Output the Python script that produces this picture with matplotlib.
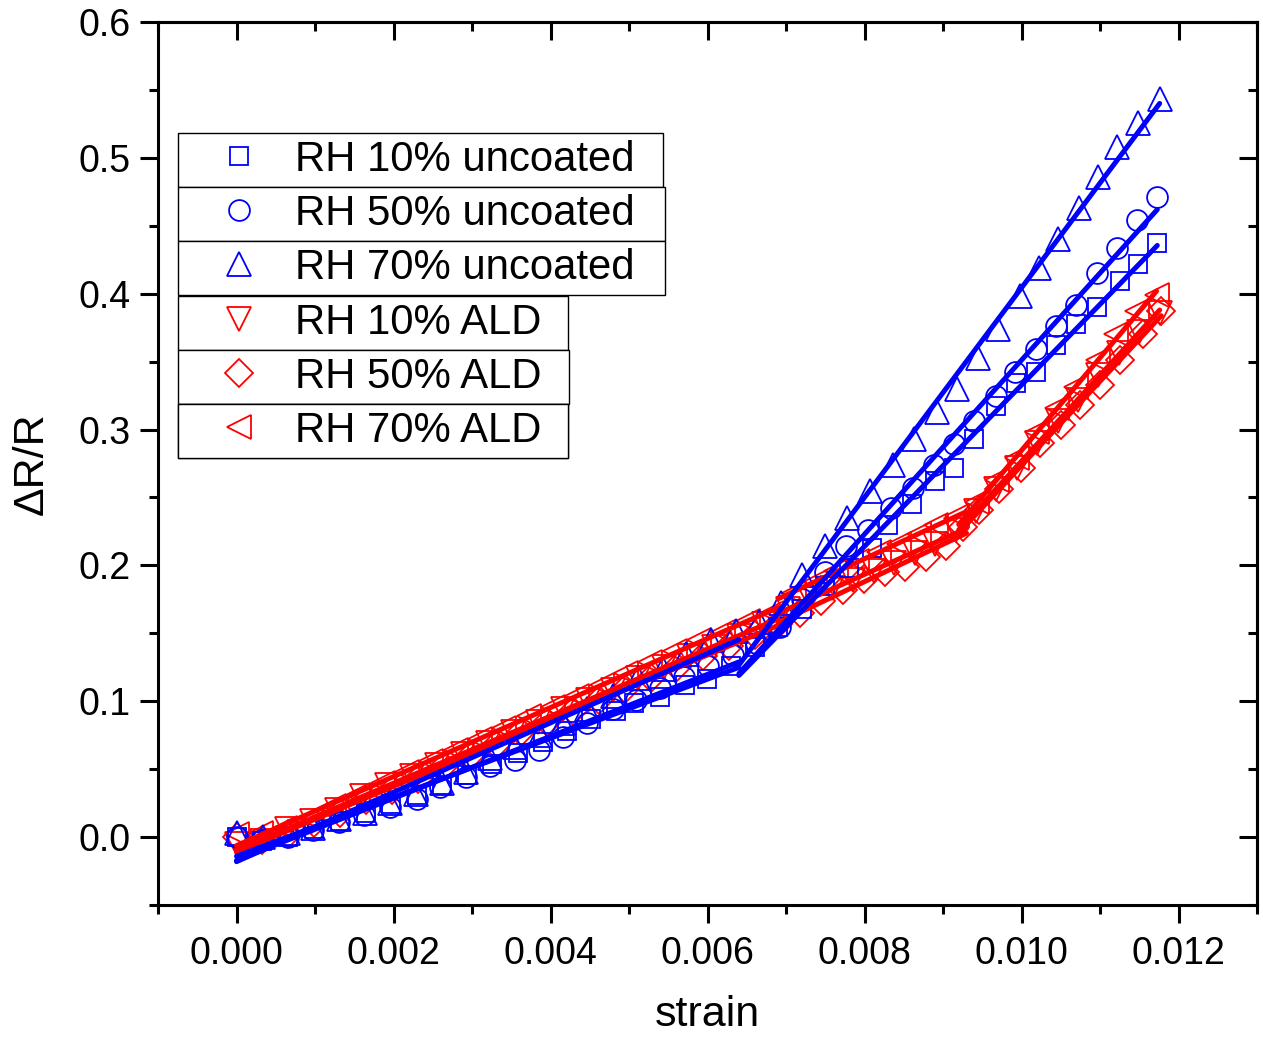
import matplotlib
matplotlib.use("Agg")
import matplotlib.pyplot as plt
from matplotlib.ticker import MultipleLocator, FormatStrFormatter
import numpy as np

plt.rcParams['font.family'] = ['Liberation Sans', 'DejaVu Sans']

# --- data (strain, dR/R) ---
x_rh10_unc = [0, 0.00033, 0.00066, 0.00099, 0.00132, 0.00165, 0.00197, 0.0023, 0.00262, 0.00294,
              0.00326, 0.00358, 0.0039, 0.00421, 0.00452, 0.00484, 0.00507, 0.00539, 0.00571, 0.00599,
              0.0063, 0.0066, 0.0069, 0.0072, 0.0075, 0.0078, 0.0081, 0.0083, 0.0086, 0.0089,
              0.00914, 0.0094, 0.00967, 0.00993, 0.01018, 0.01044, 0.0107, 0.01096, 0.01126, 0.01148, 0.01173]
y_rh10_unc = [0.0, -0.003, 0.0, 0.006, 0.012, 0.018, 0.024, 0.031, 0.038, 0.046,
              0.054, 0.062, 0.070, 0.078, 0.087, 0.093, 0.099, 0.103, 0.112, 0.116,
              0.126, 0.140, 0.155, 0.168, 0.185, 0.198, 0.213, 0.230, 0.245, 0.262,
              0.272, 0.293, 0.317, 0.334, 0.342, 0.362, 0.378, 0.390, 0.409, 0.422, 0.437]

x_rh50_unc = [0, 0.00032, 0.00065, 0.00098, 0.0013, 0.00163, 0.00196, 0.0023, 0.00259, 0.00292,
              0.00323, 0.00355, 0.00385, 0.00416, 0.00447, 0.00479, 0.00509, 0.0054, 0.0057, 0.00601,
              0.00632, 0.00662, 0.00692, 0.00721, 0.0075, 0.00777, 0.00805, 0.00834, 0.00862, 0.00889,
              0.00914, 0.0094, 0.00967, 0.00992, 0.01018, 0.01044, 0.01069, 0.01096, 0.01122, 0.01147, 0.01173]
y_rh50_unc = [0.0, -0.002, 0.0, 0.005, 0.011, 0.016, 0.022, 0.028, 0.037, 0.044,
              0.052, 0.057, 0.064, 0.074, 0.084, 0.094, 0.101, 0.110, 0.118, 0.126,
              0.134, 0.143, 0.155, 0.175, 0.195, 0.214, 0.226, 0.242, 0.257, 0.274,
              0.289, 0.306, 0.325, 0.342, 0.359, 0.376, 0.392, 0.415, 0.434, 0.454, 0.471]

x_rh70_unc = [0, 0.00034, 0.00065, 0.00098, 0.00131, 0.00164, 0.00196, 0.00229, 0.00262, 0.00292,
              0.00323, 0.00355, 0.00386, 0.00416, 0.00447, 0.00479, 0.00511, 0.00543, 0.00573, 0.00605,
              0.00636, 0.00665, 0.00694, 0.00721, 0.0075, 0.00778, 0.00807, 0.00836, 0.00863, 0.00892,
              0.00918, 0.00944, 0.0097, 0.00998, 0.01022, 0.01047, 0.01073, 0.01098, 0.01122, 0.01149, 0.01176]
y_rh70_unc = [0.003, 0.0, 0.003, 0.007, 0.013, 0.018, 0.025, 0.032, 0.040, 0.048,
              0.058, 0.066, 0.075, 0.084, 0.094, 0.104, 0.117, 0.124, 0.135, 0.145,
              0.152, 0.158, 0.172, 0.193, 0.214, 0.235, 0.255, 0.274, 0.293, 0.313,
              0.330, 0.353, 0.374, 0.398, 0.419, 0.440, 0.463, 0.486, 0.508, 0.526, 0.543]

x_rh10_ald = [0, 0.00032, 0.00064, 0.00096, 0.00128, 0.0016, 0.00192, 0.00224, 0.00256, 0.00288,
              0.0032, 0.00352, 0.00384, 0.00416, 0.00448, 0.0048, 0.00512, 0.00544, 0.00576, 0.00608,
              0.0064, 0.00672, 0.00702, 0.0073, 0.00758, 0.00785, 0.00812, 0.00838, 0.00864, 0.0089,
              0.00916, 0.00942, 0.00968, 0.00994, 0.0102, 0.01046, 0.01072, 0.01098, 0.01124, 0.0115, 0.01176]
y_rh10_ald = [-0.005, -0.003, 0.006, 0.012, 0.020, 0.030, 0.038, 0.045, 0.053, 0.061,
              0.069, 0.077, 0.085, 0.094, 0.101, 0.108, 0.117, 0.125, 0.133, 0.140,
              0.148, 0.157, 0.168, 0.176, 0.183, 0.189, 0.196, 0.202, 0.209, 0.216,
              0.226, 0.240, 0.256, 0.272, 0.290, 0.306, 0.322, 0.340, 0.356, 0.372, 0.386]

x_rh50_ald = [0, 0.00033, 0.00066, 0.00099, 0.00132, 0.00165, 0.00198, 0.00231, 0.00264, 0.00297,
              0.0033, 0.00363, 0.00396, 0.00429, 0.00462, 0.00495, 0.00528, 0.00561, 0.00594, 0.00627,
              0.0066, 0.0069, 0.00718, 0.00745, 0.00772, 0.00799, 0.00826, 0.00852, 0.00878, 0.00904,
              0.00925, 0.00946, 0.00971, 0.00999, 0.01024, 0.0105, 0.01075, 0.011, 0.01126, 0.01155, 0.01178]
y_rh50_ald = [0.0, -0.002, 0.002, 0.010, 0.018, 0.027, 0.035, 0.043, 0.052, 0.060,
              0.068, 0.077, 0.085, 0.093, 0.101, 0.109, 0.117, 0.125, 0.133, 0.141,
              0.149, 0.157, 0.165, 0.174, 0.182, 0.190, 0.195, 0.199, 0.206, 0.214,
              0.228, 0.241, 0.256, 0.272, 0.290, 0.303, 0.318, 0.333, 0.351, 0.370, 0.387]

x_rh70_ald = [0, 0.00031, 0.00062, 0.00093, 0.00124, 0.00155, 0.00186, 0.00217, 0.00248, 0.00279,
              0.0031, 0.00341, 0.00372, 0.00403, 0.00434, 0.00465, 0.00496, 0.00527, 0.00558, 0.00589,
              0.0062, 0.00651, 0.00682, 0.0071, 0.00737, 0.00764, 0.00791, 0.00818, 0.00844, 0.0087,
              0.00891, 0.00918, 0.00943, 0.00969, 0.00994, 0.0102, 0.01045, 0.0107, 0.01098, 0.01121,
              0.01147, 0.01172]
y_rh70_ald = [0.002, 0.003, 0.007, 0.014, 0.023, 0.031, 0.040, 0.048, 0.056, 0.064,
              0.072, 0.080, 0.089, 0.096, 0.104, 0.112, 0.121, 0.129, 0.137, 0.145,
              0.151, 0.159, 0.165, 0.180, 0.188, 0.196, 0.203, 0.210, 0.216, 0.223,
              0.230, 0.236, 0.247, 0.263, 0.279, 0.298, 0.316, 0.331, 0.351, 0.370,
              0.387, 0.399]

labels = ['RH 10% uncoated', 'RH 50% uncoated', 'RH 70% uncoated',
          'RH 10% ALD', 'RH 50% ALD', 'RH 70% ALD']

# piecewise linear fit ranges (strain)
uncoated_segments = [(0.0, 0.0064), (0.0064, 0.0118)]
ald_segments = [(0.0, 0.0069), (0.0069, 0.0093), (0.0092, 0.0118)]

series = [
    (x_rh10_unc, y_rh10_unc, 's', 13, 'blue', uncoated_segments),
    (x_rh50_unc, y_rh50_unc, 'o', 15, 'blue', uncoated_segments),
    (x_rh70_unc, y_rh70_unc, '^', 17, 'blue', uncoated_segments),
    (x_rh10_ald, y_rh10_ald, 'v', 17, 'red', ald_segments),
    (x_rh50_ald, y_rh50_ald, 'D', 14, 'red', ald_segments),
    (x_rh70_ald, y_rh70_ald, '<', 17, 'red', ald_segments),
]

fig = plt.figure(figsize=(12.63, 10.38), dpi=100)
ax = fig.add_axes([158 / 1263, 1 - 905 / 1038, 1099 / 1263, 883 / 1038])

handles = {}
draw_order = [3, 4, 5, 0, 1, 2]
for i in draw_order:
    x, y, m, ms, c, segs = series[i]
    h, = ax.plot(x, y, ls='none', marker=m, ms=ms, mfc='none', mec=c, mew=1.3, zorder=2)
    handles[i] = h

# fitted lines, one straight line per strain range
for i in draw_order:
    x, y, m, ms, c, segs = series[i]
    x = np.array(x)
    y = np.array(y)
    for lo, hi in segs:
        mask = (x >= lo) & (x <= hi)
        p = np.polyfit(x[mask], y[mask], 1)
        xx = np.array([lo, min(hi, x.max())])
        ax.plot(xx, np.polyval(p, xx), color=c, lw=3.6, solid_capstyle='round', zorder=3)

ax.set_xlim(-0.001, 0.013)
ax.set_ylim(-0.05, 0.6)
ax.xaxis.set_major_locator(MultipleLocator(0.002))
ax.xaxis.set_minor_locator(MultipleLocator(0.001))
ax.yaxis.set_major_locator(MultipleLocator(0.1))
ax.yaxis.set_minor_locator(MultipleLocator(0.05))
ax.xaxis.set_major_formatter(FormatStrFormatter('%.3f'))
ax.yaxis.set_major_formatter(FormatStrFormatter('%.1f'))

for s in ax.spines.values():
    s.set_linewidth(2.2)
ax.tick_params(which='major', direction='out', length=13, width=2.2, labelsize=27, top=False, right=False)
ax.tick_params(which='minor', direction='out', length=6.5, width=2.2, top=False, right=False)
ax.tick_params(axis='x', which='major', pad=9)
ax.tick_params(axis='y', which='major', pad=7)

# inward ticks on top and right, as in the original
top = ax.secondary_xaxis('top')
top.xaxis.set_major_locator(MultipleLocator(0.002))
top.xaxis.set_minor_locator(MultipleLocator(0.001))
top.tick_params(which='major', direction='in', length=13, width=2.2, labeltop=False)
top.tick_params(which='minor', direction='in', length=6.5, width=2.2)
top.spines['top'].set_linewidth(2.2)
right = ax.secondary_yaxis('right')
right.yaxis.set_major_locator(MultipleLocator(0.1))
right.yaxis.set_minor_locator(MultipleLocator(0.05))
right.tick_params(which='major', direction='in', length=13, width=2.2, labelright=False)
right.tick_params(which='minor', direction='in', length=6.5, width=2.2)
right.spines['right'].set_linewidth(2.2)

ax.set_xlabel('strain', fontsize=31, labelpad=17)
ax.set_ylabel('\u0394R/R', fontsize=31, labelpad=19)

# Origin-style legend: every entry in its own box
box_tops = [0.8743, 0.8131, 0.7520, 0.6897, 0.6285, 0.5674]
box_widths = [0.441, 0.443, 0.443, 0.355, 0.356, 0.355]
box_h = 0.0612
for i, lab, yt, w in zip(range(6), labels, box_tops, box_widths):
    leg = ax.legend([handles[i]], [lab], loc='upper left', bbox_to_anchor=(0.0182, yt - box_h, w, box_h),
                    mode='expand', borderaxespad=0, fontsize=30.2, borderpad=0.17,
                    handlelength=2.55, handletextpad=0.08, fancybox=False, framealpha=1,
                    edgecolor='black')
    leg.get_frame().set_linewidth(1.0)
    leg.set_zorder(5)
    ax.add_artist(leg)

fig.savefig('out.png', dpi=100)
